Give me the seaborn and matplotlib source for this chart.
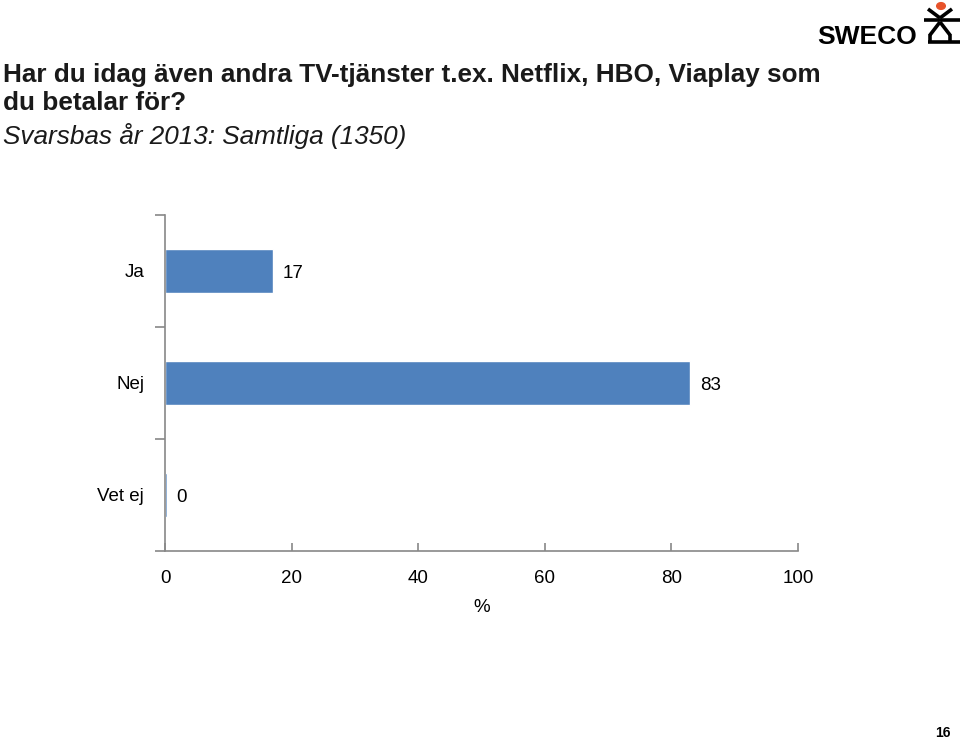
import seaborn as sns
import matplotlib.pyplot as plt
import pandas as pd
from matplotlib.patches import Circle
from matplotlib.lines import Line2D

sns.set_style("white")
plt.rcParams['font.family'] = ['Liberation Sans', 'DejaVu Sans']
plt.rcParams['text.color'] = 'black'
plt.rcParams['xtick.color'] = '#888888'
plt.rcParams['ytick.color'] = '#888888'
plt.rcParams['xtick.labelcolor'] = 'black'
plt.rcParams['ytick.labelcolor'] = 'black'
plt.rcParams['axes.labelcolor'] = 'black'

# Data
categories = ['Ja', 'Nej', 'Vet ej']
values = [17, 83, 0.3]
df = pd.DataFrame({'svar': categories, 'andel': values})

fig = plt.figure(figsize=(9.6, 7.47), dpi=100)
ax = fig.add_axes([0.1719, 0.2624, 0.6594, 0.4498])

sns.barplot(data=df, x='andel', y='svar', orient='h', color='#4F81BD',
            width=0.4, saturation=1, ax=ax)

ax.set_xlim(0, 100)
ax.set_ylim(2.5, -0.5)
ax.set_xticks([0, 20, 40, 60, 80, 100])
ax.tick_params(axis='x', bottom=True, direction='in', length=6, width=1.2,
               labelsize=13.5, pad=14)
ax.set_yticks([-0.5, 0.5, 1.5, 2.5], minor=True)
ax.tick_params(axis='y', which='major', left=True, length=0, labelsize=13.5, pad=15)
ax.tick_params(axis='y', which='minor', left=True, direction='out', length=7, width=1.2)
ax.set_xlabel('%', fontsize=13.5, labelpad=8)
ax.set_ylabel('')
for s in ['top', 'right']:
    ax.spines[s].set_visible(False)
for s in ['left', 'bottom']:
    ax.spines[s].set_color('#888888')
    ax.spines[s].set_linewidth(1.2)

# value labels
for i, v in enumerate(values):
    ax.text(v + 1.5, i + 0.02, f'{round(v)}', va='center', ha='left', fontsize=13.5)

# Titles
tc = '#1a1a1a'
fig.text(0.003, 0.900, 'Har du idag även andra TV-tjänster t.ex. Netflix, HBO, Viaplay som',
         fontsize=18.8, fontweight='bold', va='center', color=tc)
fig.text(0.003, 0.862, 'du betalar för?', fontsize=18.8, fontweight='bold', va='center', color=tc)
fig.text(0.003, 0.818, 'Svarsbas år 2013: Samtliga (1350)', fontsize=18.8, style='italic',
         va='center', color=tc)

# Logo
fig.text(0.851, 0.951, 'SWECO', fontsize=19, fontweight='bold', va='center', ha='left')
W, H = 960, 747
def L(x1, y1, x2, y2):
    fig.add_artist(Line2D([x1 / W, x2 / W], [1 - y1 / H, 1 - y2 / H], color='black',
                          lw=2.6, solid_capstyle='butt'))
L(928, 9, 940, 18)
L(952, 9, 940, 18)
L(924, 20, 960, 20)
L(940, 22, 930, 35)
L(940, 22, 950, 35)
L(930, 34, 930, 42)
L(950, 34, 950, 42)
L(928, 42, 960, 42)
fig.add_artist(Circle((941 / W, 1 - 6 / H), 0.0045, transform=fig.transFigure,
                      color='#E8532B'))

fig.text(0.99, 0.01, '16', fontsize=10, fontweight='bold', ha='right', va='bottom')

fig.savefig('out.png', dpi=100)
